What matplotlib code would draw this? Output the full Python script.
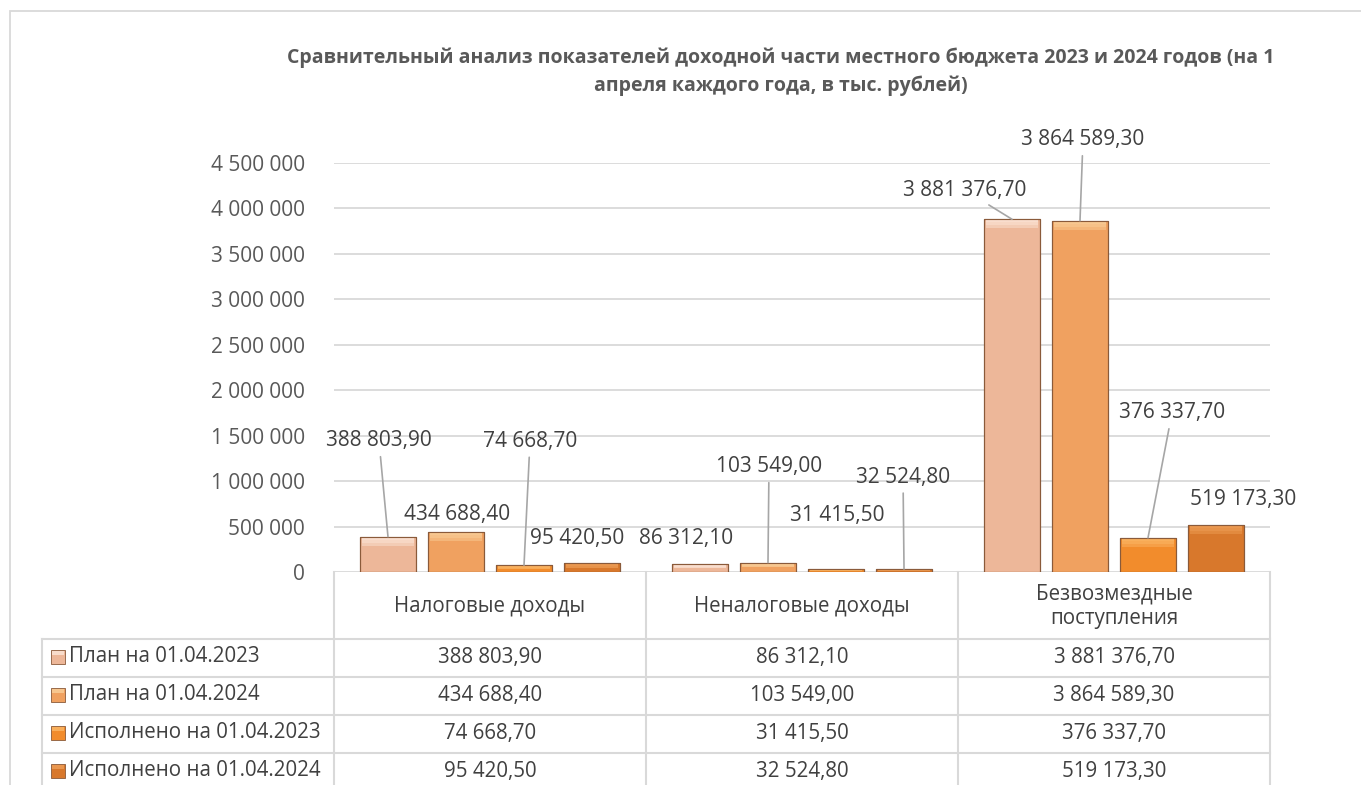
import matplotlib
matplotlib.use("Agg")
import matplotlib.pyplot as plt
from matplotlib.patches import Rectangle
from matplotlib.lines import Line2D
import numpy as np

plt.rcParams['font.family'] = ['Open Sans', 'DejaVu Sans']

# ---- data ----
categories = ["Налоговые доходы", "Неналоговые доходы", "Безвозмездные\nпоступления"]
series_names = ["План на 01.04.2023", "План на 01.04.2024",
                "Исполнено на 01.04.2023", "Исполнено на 01.04.2024"]
plan_2023 = [388803.90, 86312.10, 3881376.70]
plan_2024 = [434688.40, 103549.00, 3864589.30]
done_2023 = [74668.70, 31415.50, 376337.70]
done_2024 = [95420.50, 32524.80, 519173.30]
series_values = [plan_2023, plan_2024, done_2023, done_2024]
y_ticks = [0, 500000, 1000000, 1500000, 2000000, 2500000, 3000000, 3500000, 4000000, 4500000]
title = ("Сравнительный анализ показателей доходной части местного бюджета 2023 и 2024 годов (на 1\n"
         "апреля каждого года, в тыс. рублей)")

# ---- styles ----
colors = ["#EDB799", "#F0A160", "#F28C2C", "#D8782C"]
highlights = ["#FCE6D8", "#FAD09A", "#FBB868", "#EFA058"]
edge = "#8A5A3A"
txt = "#404040"
grid_c = "#D9D9D9"

# label offsets in pixels (dx, dy) relative to bar top centre, and leader-line flags
label_offsets = [
    [(-9, 96), (-14, 26), (-47, 29)],
    [(1, 18), (1, 96), (3, 81)],
    [(6, 124), (1, 54), (24, 125)],
    [(-15, 25), (-1, 92), (27, 25)],
]
leader = [
    [True, False, True],
    [False, True, True],
    [True, False, True],
    [False, True, False],
]

W, H = 1361, 785
fig = plt.figure(figsize=(W / 100, H / 100), dpi=100)


def fx(x):
    return x / W


def fy(y):
    return 1 - y / H


# outer border
fig.patches.append(Rectangle((fx(10), fy(795)), fx(1400), (795 - 11) / H,
                             transform=fig.transFigure, fill=False, edgecolor="#D9D9D9",
                             lw=1.3, zorder=0))

ax_l, ax_r, ax_t, ax_b = 334, 1270, 163, 572
ax = fig.add_axes([fx(ax_l), fy(ax_b), (ax_r - ax_l) / W, (ax_b - ax_t) / H])
ax.set_xlim(-0.5, 2.5)
ax.set_ylim(0, 4500000)
for s in ax.spines.values():
    s.set_visible(False)
ax.set_yticks(y_ticks)
ax.set_yticklabels([f"{v:,}".replace(",", " ") for v in y_ticks], fontsize=15, color="#595959")
ax.tick_params(axis='y', length=0, pad=21)
ax.set_xticks([])
ax.grid(axis='y', color=grid_c, lw=1.3)
ax.set_axisbelow(True)

x = np.arange(len(categories))
bw = 0.18
offs = [-0.327, -0.109, 0.109, 0.327]
px_per_val = (ax_b - ax_t) / 4500000


def fmt(v):
    s = f"{v:,.2f}"
    ip, dp = s.split(".")
    return ip.replace(",", " ") + "," + dp


for i, vals in enumerate(series_values):
    xs = x + offs[i]
    ax.bar(xs, vals, width=bw, color=colors[i], edgecolor=edge, linewidth=0.8, zorder=3)
    # soft top bevel: stacked translucent strips
    for k in range(3):
        hh = [min(v * 0.5, (9 - 3 * k) / px_per_val) for v in vals]
        ax.bar(xs, hh, bottom=[v - h for v, h in zip(vals, hh)], width=bw * 0.94,
               color=highlights[i], alpha=0.45, linewidth=0, zorder=4)
    ax.bar(xs, vals, width=bw, fill=False, edgecolor=edge, linewidth=0.8, zorder=5)
    for j, v in enumerate(vals):
        dx, dy = label_offsets[i][j]
        ap = dict(arrowstyle='-', color="#A6A6A6", lw=1.2, shrinkA=2, shrinkB=0) if leader[i][j] else None
        ax.annotate(fmt(v), xy=(xs[j], v), xytext=(dx, dy), textcoords='offset pixels',
                    ha='center', va='center', fontsize=15, color=txt,
                    arrowprops=ap, zorder=6, annotation_clip=False)

# title
fig.text(fx(781), fy(72), title, ha='center', va='center', fontsize=14,
         fontweight='bold', color="#595959", linespacing=1.5)

# ---- data table ----
col_x = [334, 646, 958, 1270]
row_y = [572, 639, 677, 715, 753, 791]
tab_left = 42
lc = "#D9D9D9"


def hline(y, x0, x1):
    fig.add_artist(Line2D([fx(x0), fx(x1)], [fy(y), fy(y)], transform=fig.transFigure,
                          color=lc, lw=1.5))


def vline(xp, y0, y1):
    fig.add_artist(Line2D([fx(xp), fx(xp)], [fy(y0), fy(y1)], transform=fig.transFigure,
                          color=lc, lw=1.5))


for yy in row_y[1:]:
    hline(yy, tab_left, col_x[-1])
for xp in col_x:
    vline(xp, row_y[0], 795)
vline(tab_left, row_y[1], 795)

for j, c in enumerate(categories):
    cx = (col_x[j] + col_x[j + 1]) / 2
    fig.text(fx(cx), fy((row_y[0] + row_y[1]) / 2 + 1), c, ha='center', va='center',
             fontsize=14.8, color=txt, linespacing=1.2)

for i, name in enumerate(series_names):
    yc = (row_y[i + 1] + row_y[i + 2]) / 2 - 1
    fig.patches.append(Rectangle((fx(51), fy(yc + 7)), 14 / W, 14 / H, transform=fig.transFigure,
                                 facecolor=colors[i], edgecolor=edge, lw=0.6))
    fig.patches.append(Rectangle((fx(52), fy(yc - 2)), 12 / W, 4 / H, transform=fig.transFigure,
                                 facecolor=highlights[i], edgecolor='none', alpha=0.8))
    fig.text(fx(69), fy(yc), name, ha='left', va='center', fontsize=14.8, color=txt)
    for j, v in enumerate(series_values[i]):
        cx = (col_x[j] + col_x[j + 1]) / 2
        fig.text(fx(cx), fy(yc), fmt(v), ha='center', va='center', fontsize=14.8, color=txt)

fig.savefig("out.png", dpi=100)
